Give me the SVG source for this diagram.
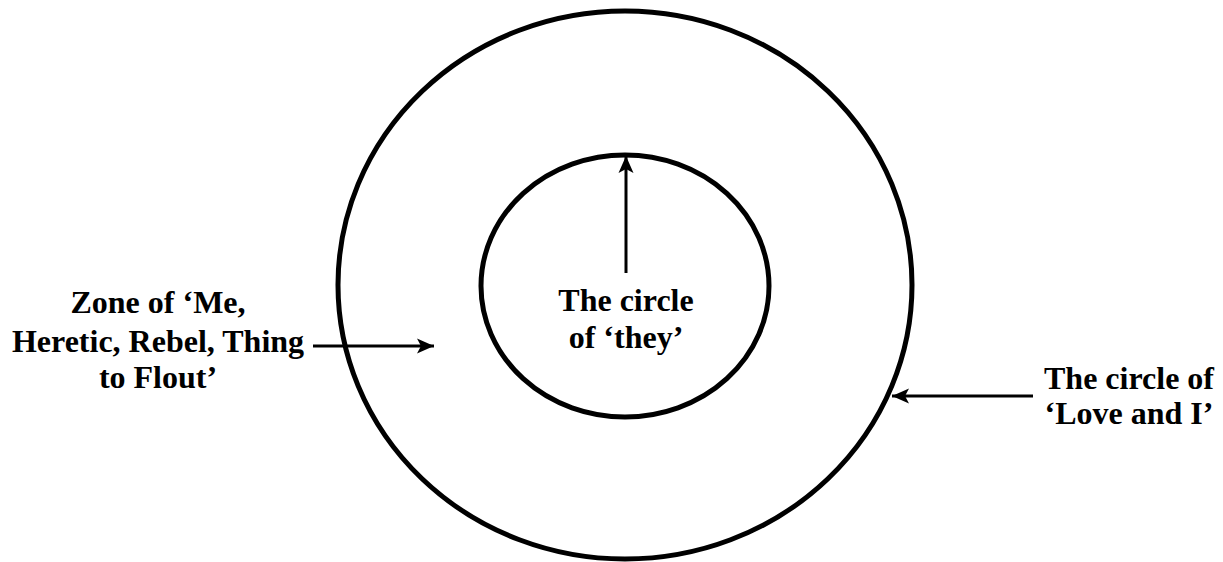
<svg xmlns="http://www.w3.org/2000/svg" width="1223" height="562" viewBox="0 0 1223 562">
<style>
.ring{fill:none;stroke:#000;stroke-width:5}
.conn{stroke:#000;stroke-width:3;fill:none}
.lbl{font-family:"Liberation Serif","Times New Roman",serif;font-weight:bold;font-size:32px;fill:#000}
</style>
<defs>
<marker id="ah" markerUnits="userSpaceOnUse" markerWidth="20" markerHeight="18" refX="17" refY="9" orient="auto">
<path d="M0,1.5 L17,9 L0,16.5 L4,9 Z" fill="#000"/>
</marker>
</defs>
<rect width="1223" height="562" fill="#fff"/>
<g id="outer-circle"><ellipse class="ring" cx="625" cy="285" rx="287" ry="274"/></g>
<g id="inner-circle"><ellipse class="ring" cx="625" cy="286" rx="144" ry="131"/></g>
<g id="label-they"><text class="lbl" text-anchor="middle"><tspan x="626" y="311">The circle</tspan><tspan x="626" y="348">of ‘they’</tspan></text></g>
<g id="label-zone"><text class="lbl" text-anchor="middle"><tspan x="158" y="313">Zone of ‘Me,</tspan><tspan x="158" y="352">Heretic, Rebel, Thing</tspan><tspan x="158" y="388">to Flout’</tspan></text></g>
<g id="label-love"><text class="lbl" text-anchor="middle"><tspan x="1129" y="389">The circle of</tspan><tspan x="1129" y="424">‘Love and I’</tspan></text></g>
<g id="connectors">
<line class="conn" x1="626" y1="273" x2="626" y2="156" marker-end="url(#ah)"/>
<line class="conn" x1="313" y1="346" x2="434" y2="346" marker-end="url(#ah)"/>
<line class="conn" x1="1033" y1="396" x2="892" y2="396" marker-end="url(#ah)"/>
</g>
</svg>
